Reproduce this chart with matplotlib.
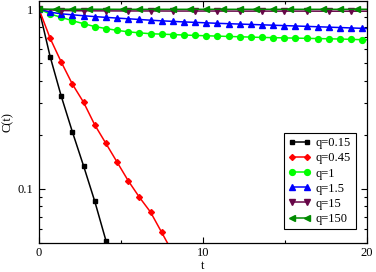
import numpy as np
import matplotlib.pyplot as plt
from matplotlib.ticker import LogLocator, NullFormatter, FixedLocator

plt.rcParams["font.family"] = ["Liberation Serif", "DejaVu Serif"]
plt.rcParams["font.size"] = 9

# time grids
t_015 = [0.0, 0.68, 1.36, 2.04, 2.72, 3.40, 4.08]
c_015 = [1.0, 0.544, 0.327, 0.207, 0.134, 0.0853, 0.0516]

t_045 = [0.0, 0.68, 1.36, 2.04, 2.72, 3.40, 4.08, 4.76, 5.44, 6.12, 6.80, 7.48, 8.16]
c_045 = [1.0, 0.688, 0.507, 0.382, 0.303, 0.227, 0.179, 0.141, 0.111, 0.0899,
         0.0743, 0.0573, 0.0441]

t_slow = [0.0, 0.68, 1.36, 2.04, 2.72, 3.40, 4.08, 4.76, 5.44, 6.12,
          6.80, 7.48, 8.16, 8.84, 9.52, 10.20, 10.88, 11.56, 12.24, 12.92,
          13.60, 14.28, 14.96, 15.64, 16.32, 17.00, 17.68, 18.36, 19.04, 19.72, 20.0]
c_1 = [1.0, 0.94, 0.90, 0.862, 0.83, 0.80, 0.78, 0.762, 0.748, 0.738,
       0.730, 0.726, 0.722, 0.718, 0.714, 0.711, 0.708, 0.705, 0.702, 0.699,
       0.696, 0.694, 0.692, 0.690, 0.688, 0.686, 0.684, 0.682, 0.679, 0.676, 0.675]
c_15 = [1.0, 0.962, 0.942, 0.930, 0.919, 0.909, 0.900, 0.892, 0.884, 0.876,
        0.868, 0.861, 0.855, 0.849, 0.844, 0.839, 0.834, 0.830, 0.826, 0.822,
        0.818, 0.814, 0.810, 0.806, 0.802, 0.798, 0.794, 0.790, 0.786, 0.782, 0.780]

t_q15 = [0.0, 1.36, 2.72, 4.08, 5.44, 6.80, 8.16, 9.52, 10.88, 12.24,
         13.60, 14.96, 16.32, 17.68, 19.04, 20.0]
c_q15 = [1.0, 0.982, 0.979, 0.978, 0.977, 0.977, 0.976, 0.976, 0.976, 0.975,
         0.975, 0.975, 0.975, 0.974, 0.974, 0.974]

t_q150 = [0.0, 1.02, 2.04, 3.06, 4.08, 5.10, 6.12, 7.14, 8.16, 9.18,
          10.20, 11.22, 12.24, 13.26, 14.28, 15.30, 16.32, 17.34, 18.36, 19.38, 20.0]
c_q150 = [1.0, 0.999, 0.999, 0.999, 0.999, 0.998, 0.998, 0.998, 0.998, 0.998,
          0.998, 0.998, 0.998, 0.998, 0.998, 0.998, 0.998, 0.998, 0.998, 0.998, 0.998]

fig = plt.figure(figsize=(3.76, 2.72), dpi=100)
ax = fig.add_axes([39 / 376, 1 - 243 / 272, 328 / 376, 242 / 272])

lw = 1.1
ax.plot(t_015, c_015, color="black", marker="s", ms=3.3, lw=lw, label="q=0.15")
ax.plot(t_045, c_045, color="#ff0000", marker="D", ms=3.0, lw=lw, label="q=0.45")
ax.plot(t_slow, c_1, color="#00ff00", marker="o", ms=4.2, lw=lw,
        markevery=slice(0, len(t_slow) - 1), label="q=1")
ax.plot(t_slow, c_15, color="#0000ff", marker="^", ms=4.0, lw=lw,
        markevery=slice(0, len(t_slow) - 1), label="q=1.5")
ax.plot(t_q15, c_q15, color="#670748", marker="v", ms=4.0, lw=lw,
        markevery=slice(0, len(t_q15) - 1), label="q=15")
ax.plot(t_q150, c_q150, color="#008b00", marker="<", ms=4.0, lw=lw,
        markevery=slice(0, len(t_q150) - 1), label="q=150")

ax.set_yscale("log")
ax.set_xlim(0, 20)
ax.set_ylim(0.05, 1.11)

ax.xaxis.set_major_locator(FixedLocator([0, 10, 20]))
ax.xaxis.set_minor_locator(FixedLocator([5, 15]))
ax.yaxis.set_major_locator(FixedLocator([0.1, 1]))
ax.set_yticklabels(["0.1", "1"])
ax.yaxis.set_minor_locator(LogLocator(base=10, subs=np.arange(2, 10)))
ax.yaxis.set_minor_formatter(NullFormatter())

ax.tick_params(which="both", direction="in", top=True, right=True, width=0.8)
ax.tick_params(which="major", length=4.5, pad=4)
ax.tick_params(axis="x", which="major", pad=3)
ax.tick_params(which="minor", length=2.5)
for s in ax.spines.values():
    s.set_linewidth(0.9)

ax.set_xlabel("t", va="center")
ax.xaxis.set_label_coords(0.5, -0.093)
ax.set_ylabel("C(t)", labelpad=3)

leg = ax.legend(loc="upper left", bbox_to_anchor=(0.747, 0.455), borderaxespad=0,
                numpoints=2, fancybox=False, framealpha=1, edgecolor="black",
                handlelength=1.8, handletextpad=0.4, labelspacing=0.25,
                borderpad=0.35)
leg.get_frame().set_linewidth(0.8)

fig.savefig("out.png", dpi=100)
